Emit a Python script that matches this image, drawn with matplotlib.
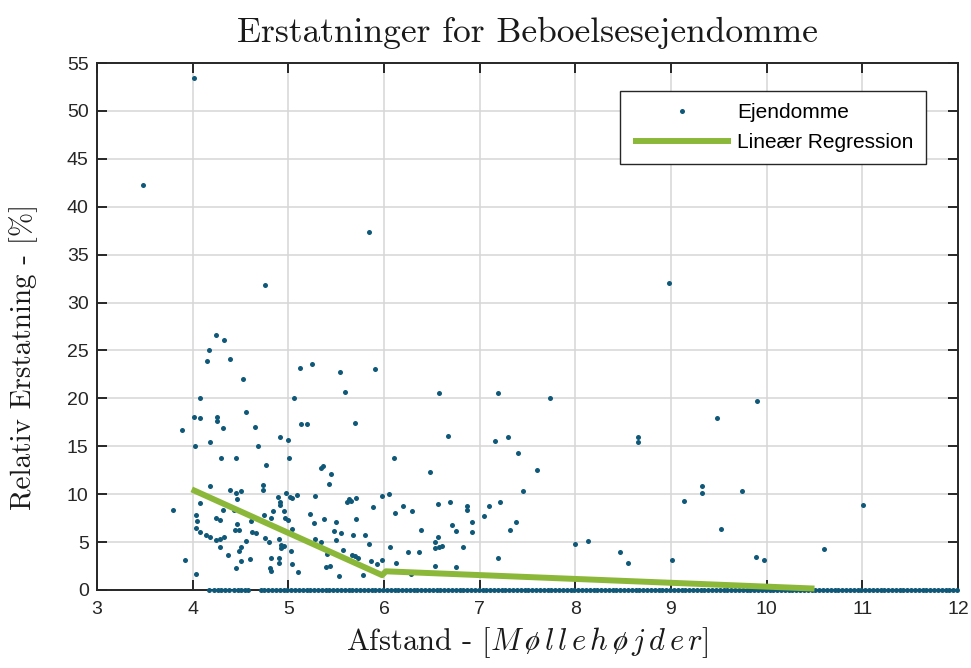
import matplotlib
matplotlib.use("Agg")
import matplotlib.pyplot as plt

plt.rcParams['mathtext.fontset'] = 'cm'
plt.rcParams['axes.unicode_minus'] = False

# ---------------- data ----------------
prop_x = [3.48, 4.01, 4.76, 5.84, 8.98,
          4.24, 4.33, 4.17, 4.15, 4.39, 4.53, 4.08, 4.56, 4.01, 4.08, 4.25, 4.25, 3.89, 4.32, 4.65,
          4.91, 4.02, 4.18, 4.68, 4.30, 4.45, 4.77,
          3.79, 4.08, 4.18, 4.39, 4.45, 4.50, 4.46, 4.74, 4.74, 4.89, 4.91, 4.91, 4.03, 4.05, 4.04,
          4.24, 4.29, 4.32, 4.43, 4.61, 4.75, 4.82, 4.84,
          4.08, 4.14, 4.18, 4.24, 4.29, 4.33, 4.29, 4.44, 4.48, 4.46, 4.62, 4.66, 4.56, 4.76, 4.80,
          4.90, 4.92, 4.50, 4.48, 4.37, 4.60, 4.50, 4.82, 4.90, 4.90, 4.45, 4.81, 4.82, 3.92, 4.03,
          5.12, 5.25, 5.54, 5.91, 5.59, 5.06, 5.13, 5.19, 5.70, 5.00, 5.01, 6.10,
          5.34, 5.36, 5.45, 5.43, 4.98, 5.02, 5.04, 5.09, 5.28, 5.61, 5.63, 5.65, 5.71, 5.89, 5.98,
          6.05, 4.95, 4.97, 5.00, 5.23, 5.27, 5.37, 5.50, 5.04, 5.48, 5.55, 5.71, 5.68, 5.80, 5.28,
          5.34, 5.50, 5.84, 4.95, 4.92, 6.06, 5.40, 5.57, 5.67, 5.70, 5.73, 5.03, 5.04, 5.39, 5.44,
          5.86, 5.93, 5.98, 5.10, 5.53, 5.78,
          6.58, 7.19, 6.67, 7.16, 7.30, 7.40, 7.60, 6.48, 6.11, 6.20, 6.29, 6.56, 6.69, 6.87, 6.87,
          7.10, 7.21, 7.05, 6.92, 7.38, 7.32, 6.71, 6.75, 6.39, 6.92, 6.53, 6.56, 6.53, 6.57, 6.61,
          6.83, 6.25, 6.37, 6.13, 6.53, 6.75, 7.19, 6.28, 7.45,
          7.74, 9.90, 9.48, 8.65, 8.65, 9.32, 9.32, 9.74, 9.14, 11.01, 9.52, 8.00, 8.13, 8.47, 8.55,
          9.01, 9.89, 9.97, 10.60]
prop_y = [42.3, 53.4, 31.8, 37.4, 32.0,
          26.6, 26.1, 25.0, 23.9, 24.1, 22.0, 20.0, 18.6, 18.1, 17.9, 18.1, 17.6, 16.7, 16.9, 17.0,
          16.0, 15.0, 15.4, 15.0, 13.8, 13.8, 13.0,
          8.3, 9.1, 10.9, 10.4, 10.1, 10.3, 9.5, 11.0, 10.4, 9.7, 9.2, 8.9, 7.8, 7.2, 6.5,
          7.5, 7.3, 8.3, 8.3, 7.2, 7.8, 7.5, 8.2,
          6.1, 5.7, 5.5, 5.2, 5.3, 5.5, 4.5, 6.3, 6.3, 6.9, 6.1, 5.9, 5.1, 5.4, 5.0,
          5.3, 4.7, 4.5, 4.1, 3.65, 3.2, 3.0, 3.3, 3.3, 2.8, 2.3, 2.3, 2.0, 3.1, 1.7,
          23.2, 23.6, 22.8, 23.1, 20.7, 20.0, 17.3, 17.3, 17.4, 15.7, 13.8, 13.8,
          12.7, 12.9, 12.1, 11.1, 10.1, 9.7, 9.6, 9.9, 9.8, 9.2, 9.5, 9.3, 9.6, 8.7, 9.8,
          10.0, 8.2, 7.5, 7.3, 7.9, 7.0, 7.4, 7.1, 6.4, 6.2, 6.0, 7.4, 5.7, 5.7, 5.3,
          5.0, 5.2, 4.8, 4.6, 4.4, 4.5, 3.8, 4.2, 3.65, 3.5, 3.3, 4.1, 2.7, 2.4, 2.5,
          3.0, 2.7, 3.1, 1.9, 1.5, 1.6,
          20.6, 20.6, 16.1, 15.5, 16.0, 14.3, 12.5, 12.3, 8.0, 8.8, 8.2, 9.0, 9.15, 8.8, 8.4,
          8.8, 9.15, 7.7, 7.1, 7.1, 6.3, 6.8, 6.2, 6.3, 6.05, 5.0, 5.5, 4.4, 4.5, 4.6,
          4.5, 4.0, 4.0, 2.85, 2.5, 2.4, 3.3, 1.7, 10.3,
          20.0, 19.75, 17.9, 16.0, 15.4, 10.85, 10.1, 10.3, 9.3, 8.9, 6.4, 4.8, 5.15, 4.0, 2.8,
          3.1, 3.4, 3.1, 4.25]

# properties with zero compensation (x positions)
zero_x = [4.17, 4.22, 4.26, 4.30, 4.34, 4.38, 4.43, 4.47, 4.51, 4.55, 4.58,
          4.71, 4.75, 4.79, 4.83, 4.87, 4.91, 4.95, 4.99,
          5.03, 5.07, 5.11, 5.15, 5.19, 5.23, 5.27, 5.31, 5.35, 5.39, 5.43, 5.47, 5.51,
          5.55, 5.59, 5.63, 5.67, 5.71, 5.75, 5.79, 5.83, 5.87, 5.91, 5.95, 5.99,
          6.03, 6.07, 6.11, 6.15, 6.19, 6.23, 6.27, 6.31, 6.35, 6.39, 6.43, 6.47, 6.51,
          6.55, 6.59, 6.63, 6.67, 6.71, 6.75, 6.79, 6.83, 6.87, 6.91, 6.95, 6.99,
          7.03, 7.07, 7.11, 7.15, 7.19, 7.23, 7.27, 7.31, 7.35, 7.39, 7.43, 7.47, 7.51,
          7.55, 7.59, 7.63, 7.67, 7.71, 7.75, 7.79, 7.83, 7.87, 7.91, 7.95, 7.99,
          8.03, 8.07, 8.11, 8.15, 8.19, 8.23, 8.27, 8.31, 8.35, 8.39, 8.43, 8.47, 8.51,
          8.55, 8.59, 8.63, 8.67, 8.71, 8.75, 8.79, 8.83, 8.87, 8.91, 8.95, 8.99,
          9.03, 9.07, 9.11, 9.15, 9.19, 9.23, 9.27, 9.31, 9.35, 9.39, 9.43, 9.47, 9.51,
          9.55, 9.59, 9.63, 9.67, 9.71, 9.75, 9.79, 9.83, 9.87, 9.91, 9.95, 9.99,
          10.03, 10.07, 10.11, 10.15, 10.19, 10.23, 10.27, 10.31, 10.35, 10.39, 10.43, 10.47, 10.51,
          10.55, 10.59, 10.63, 10.67, 10.71, 10.75, 10.79, 10.83, 10.87, 10.91, 10.95, 10.99,
          11.03, 11.07, 11.11, 11.15, 11.19, 11.23, 11.27, 11.31, 11.35, 11.39, 11.43, 11.47, 11.51,
          11.55, 11.59, 11.63, 11.67, 11.71, 11.75, 11.79, 11.83, 11.87, 11.91, 11.95, 11.99]
zero_y = [0.0] * len(zero_x)

# regression lines (two segments)
reg_x = [3.99, 5.98, 6.02, 10.50]
reg_y = [10.5, 1.55, 1.95, 0.15]

x_ticks = [3, 4, 5, 6, 7, 8, 9, 10, 11, 12]
y_ticks = [0, 5, 10, 15, 20, 25, 30, 35, 40, 45, 50, 55]

# ---------------- plot ----------------
dot_color = '#0f5878'
line_color = '#8cb83a'
axis_color = '#262626'
text_color = '#1a1a1a'

fig = plt.figure(figsize=(9.71, 6.68), dpi=100)
ax = fig.add_axes([97 / 971, 1 - 590 / 668, (958 - 97) / 971, (590 - 63) / 668])

all_x = prop_x + zero_x
all_y = prop_y + zero_y
ax.plot(all_x, all_y, linestyle='none', marker='o', ms=3.6, mew=0,
        color=dot_color, label='Ejendomme', clip_on=False, zorder=3)
ax.plot(reg_x, reg_y, color=line_color, lw=4.3, label='Lineær Regression',
        zorder=4, solid_capstyle='butt', clip_on=False)

ax.set_xlim(3, 12)
ax.set_ylim(0, 55)
ax.set_xticks(x_ticks)
ax.set_yticks(y_ticks)
ax.set_axisbelow(True)
ax.grid(True, color='#d6d6d6', lw=1.1)

for s in ax.spines.values():
    s.set_color(axis_color)
    s.set_linewidth(1.4)
ax.tick_params(direction='in', top=True, right=True, length=7, width=1.4,
               color=axis_color, labelcolor=axis_color, labelsize=14)
ax.tick_params(axis='x', pad=8)
ax.tick_params(axis='y', pad=6)
for lab in ax.get_xticklabels() + ax.get_yticklabels():
    lab.set_fontfamily('Liberation Sans')

ax.set_title('Erstatninger for Beboelsesejendomme', fontfamily='cmr10',
             fontsize=25.5, color=text_color, pad=15)
ax.set_ylabel('Relativ Erstatning - [%]', fontfamily='cmr10', fontsize=21,
              color=text_color)
ax.yaxis.set_label_coords(-0.068, 0.442)
ax.set_xlabel(r'Afstand - [$M\,ø\,l\,l\,e\,h\,ø\,j\,d\,e\,r$]', fontfamily='cmr10',
              fontsize=22, color=text_color, labelpad=5)

leg = ax.legend(loc='upper right', bbox_to_anchor=((926 - 97) / 861, (590 - 91) / 527),
                borderaxespad=0, fancybox=False, framealpha=1, edgecolor=axis_color,
                prop={'family': 'Liberation Sans', 'size': 15}, handlelength=4.7,
                handletextpad=0.3, labelspacing=0.5, borderpad=0.6, markerscale=1.0)
leg.get_frame().set_linewidth(1.0)

fig.savefig('out.png', dpi=100)
